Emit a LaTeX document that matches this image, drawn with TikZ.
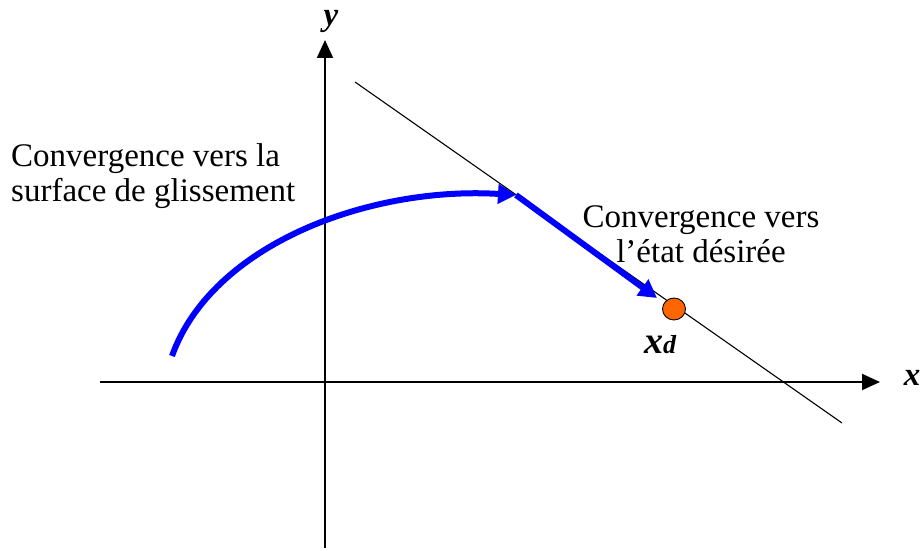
\documentclass[tikz,border=0pt]{standalone}
\usepackage{fontspec}
\setmainfont{Liberation Serif}
\usetikzlibrary{arrows.meta,shapes.geometric}
\definecolor{dotorange}{RGB}{255,102,0}
\begin{document}
\begin{tikzpicture}[x=1pt,y=-1pt,
  axis/.style={line width=2pt,-{Triangle[length=18pt,width=16pt]}},
  trajblue/.style={blue,line width=6pt,-{Triangle[length=18pt,width=19pt]}},
  lbl/.style={font=\fontsize{33}{35}\selectfont,inner sep=0pt},
  axlbl/.style={font=\fontsize{33}{35}\selectfont\bfseries\itshape,inner sep=0pt}]
\useasboundingbox (0,0) rectangle (922,551);
\coordinate (xs) at (100,382);
\coordinate (xe) at (880,382);
\coordinate (ys) at (325,548);
\coordinate (ye) at (325,40);
\draw[axis] (xs) -- (xe);
\draw[axis] (ys) -- (ye);
\node[axlbl,anchor=base] (ylab) at (331,26) {y};
\node[axlbl,anchor=base] (xlab) at (912,385) {x};
\coordinate (ls) at (355,82);
\coordinate (le) at (842,423);
\draw[line width=1.1pt] (ls) -- (le);
\coordinate (cs) at (172,356);
\coordinate (ce) at (516,195);
\draw[trajblue] (cs) .. controls (212,244) and (370,186) .. (ce);
\coordinate (ae) at (657,298);
\draw[trajblue] (ce) -- (ae);
\node[draw=black,fill=dotorange,ellipse,minimum width=23pt,minimum height=22pt,inner sep=0pt,line width=0.9pt] (xd) at (674,309) {};
\node[font=\fontsize{38}{38}\selectfont\bfseries\itshape,inner sep=0pt,anchor=base] (xdl) at (660,353) {x{\fontsize{26}{26}\selectfont d}};
\node[lbl,align=left,anchor=west] (t1) at (11,176) {Convergence vers la\\surface de glissement};
\node[lbl,align=center,anchor=center] (t2) at (701,234) {Convergence vers\\l’état désirée};
\end{tikzpicture}
\end{document}
